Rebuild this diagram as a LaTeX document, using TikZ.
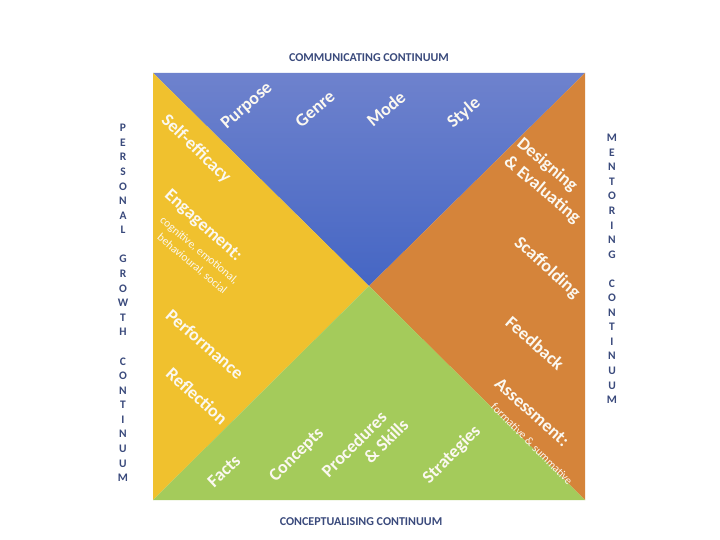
\documentclass[tikz,border=0pt]{standalone}
\usepackage{fontspec}
\setmainfont{Carlito}
\definecolor{bluetop}{HTML}{6E82CD}
\definecolor{bluebot}{HTML}{4566C4}
\definecolor{yel}{HTML}{F0C12E}
\definecolor{ora}{HTML}{D5843A}
\definecolor{gre}{HTML}{A4CB5B}
\definecolor{navy}{HTML}{3A4A7C}
\definecolor{lab}{HTML}{FBF8F0}
\tikzset{
  big/.style={text=lab, font=\fontsize{18}{21}\selectfont\bfseries, inner sep=0pt},
  small/.style={text=lab, font=\fontsize{11.5}{13}\selectfont, inner sep=0pt},
  title/.style={text=navy, font=\fontsize{12}{14}\selectfont\bfseries, inner sep=0pt},
  letter/.style={text=navy, font=\fontsize{11.5}{13}\selectfont\bfseries, inner sep=0pt},
}
\begin{document}
\begin{tikzpicture}[x=1pt,y=-1pt]
\useasboundingbox (0,0) rectangle (720,540);
\fill[white] (0,0) rectangle (720,540);
\coordinate (tl) at (153,73);
\coordinate (tr) at (585,73);
\coordinate (br) at (585,500);
\coordinate (bl) at (153,500);
\coordinate (c) at (369,286);
\shade[top color=bluetop, bottom color=bluebot] (tl) -- (tr) -- (c) -- cycle;
\fill[yel] (tl) -- (c) -- (bl) -- cycle;
\fill[ora] (tr) -- (br) -- (c) -- cycle;
\fill[gre] (bl) -- (c) -- (br) -- cycle;
% titles
\node[title] (ttop) at (369,58) {COMMUNICATING CONTINUUM};
\node[title] (tbot) at (361,522) {CONCEPTUALISING CONTINUUM};
% left column
\foreach \ch [count=\i from 0] in {P,E,R,S,O,N,A,L,{},G,R,O,W,T,H,{},C,O,N,T,I,N,U,U,M}
  \node[letter] (l\i) at (123,128+\i*14.58) {\ch};
% right column
\foreach \ch [count=\i from 0] in {M,E,N,T,O,R,I,N,G,{},C,O,N,T,I,N,U,U,M}
  \node[letter] (r\i) at (612,138+\i*14.55) {\ch};
% blue
\node[big, rotate=41] (purpose) at (247,106) {Purpose};
\node[big, rotate=40] (genre) at (315,109) {Genre};
\node[big, rotate=40] (mode) at (386,109) {Mode};
\node[big, rotate=40] (style) at (464,113) {Style};
% yellow
\node[big, rotate=-44] (self) at (196,149) {Self-efficacy};
\node[big, rotate=-42] (eng) at (203,226) {Engagement:};
\node[small, rotate=-40] (cog) at (199,251) {cognitive, emotional,};
\node[small, rotate=-40] (beh) at (192,264) {behavioural, social};
\node[big, rotate=-41] (perf) at (205,344) {Performance};
\node[big, rotate=-42] (refl) at (197,396) {Reflection};
% orange
\node[big, rotate=-40] (des) at (547,165) {Designing};
\node[big, rotate=-40] (eval) at (542,190) {\& Evaluating};
\node[big, rotate=-42] (scaf) at (547,268) {Scaffolding};
\node[big, rotate=-41] (feed) at (535,343) {Feedback};
\node[big, rotate=-42] (ass) at (532,412) {Assessment:};
\node[small, rotate=-45] (form) at (532,444) {formative \& summative};
% green
\node[big, rotate=43] (facts) at (224,471) {Facts};
\node[big, rotate=45] (conc) at (297,455) {Concepts};
\node[big, rotate=45] (proc) at (354,444) {Procedures};
\node[big, rotate=45] (skills) at (386,441) {\& Skills};
\node[big, rotate=45] (strat) at (452,455) {Strategies};
\end{tikzpicture}
\end{document}
